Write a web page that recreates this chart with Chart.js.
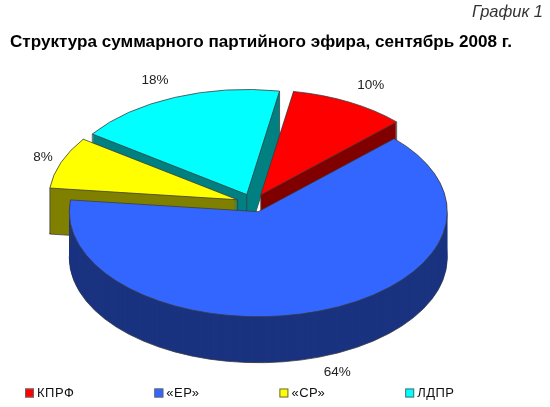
<!DOCTYPE html>
<html>
<head>
<meta charset="utf-8">
<style>
  html, body { margin: 0; padding: 0; background: #fff; }
  canvas { display: block; }
</style>
<script src="https://cdn.jsdelivr.net/npm/chart.js@4"></script>
</head>
<body>
<canvas id="chart" width="550" height="407"></canvas>
<script>
"use strict";

var parties = ['КПРФ', '«ЕР»', '«СР»', 'ЛДПР'];
var shares = [10, 64, 8, 18];
var faceColors = ['#ff0000', '#3366ff', '#ffff00', '#00ffff'];
var wallColors = ['#800000', '#1a3380', '#808000', '#008080'];

(function () {
  var SQUASH = 0.556, DEPTH = 46, EXPLODE = 16.4;
  var CENTER_X = 253, CENTER_Y = 203;
  var OUTLINE = '#3a3a3a';
  var FONT = '"Liberation Sans", Arial, sans-serif';
  // back to front, the blue slice covers the cut walls of the others
  var drawOrder = [3, 2, 0, 1];
  var labelReach = [1.198, 1.166, 1.108, 1.194];
  var labelTurn = [1.1, -2.2, 0.8, -1.6];

  var slice_origin = function (arc) {
    var mid = (arc.startAngle + arc.endAngle) / 2;
    return {
      x: CENTER_X + Math.cos(mid) * EXPLODE,
      y: CENTER_Y + Math.sin(mid) * EXPLODE * SQUASH
    };
  };

  var draw_slice = function (ctx, arc, index) {
    var origin = slice_origin(arc);
    var face = arc.options;
    var lift = DEPTH / SQUASH;
    var corners = [
      [arc.x, arc.y],
      [arc.x + Math.cos(arc.startAngle) * arc.outerRadius, arc.y + Math.sin(arc.startAngle) * arc.outerRadius],
      [arc.x + Math.cos(arc.endAngle) * arc.outerRadius, arc.y + Math.sin(arc.endAngle) * arc.outerRadius]
    ];
    var d;

    ctx.save();
    ctx.translate(origin.x, origin.y);
    ctx.scale(1, SQUASH);
    ctx.translate(-arc.x, -arc.y);

    // the side wall is the same slice stacked downwards in the dark colour
    for (d = DEPTH; d > 0; d--) {
      ctx.save();
      ctx.translate(0, d / SQUASH);
      arc.options = Object.assign({}, face, {
        backgroundColor: wallColors[index],
        borderColor: OUTLINE,
        borderWidth: d === DEPTH ? 1 : 0
      });
      arc.draw(ctx);
      ctx.restore();
    }
    arc.options = face;

    ctx.strokeStyle = OUTLINE;
    ctx.lineWidth = 1;
    corners.forEach(function (c) {
      ctx.beginPath();
      ctx.moveTo(c[0], c[1]);
      ctx.lineTo(c[0], c[1] + lift);
      ctx.stroke();
    });

    arc.draw(ctx);
    ctx.restore();
  };

  var draw_label = function (ctx, arc, index) {
    var origin = slice_origin(arc);
    var mid = (arc.startAngle + arc.endAngle) / 2 + labelTurn[index] * Math.PI / 180;
    var reach = arc.outerRadius * labelReach[index];
    var x = origin.x + Math.cos(mid) * reach;
    var y = origin.y + Math.sin(mid) * reach * SQUASH;
    // labels under the front rim have to clear the wall too
    if (Math.sin(mid) > 0) {
      y += DEPTH;
    }
    ctx.save();
    ctx.font = '13.5px ' + FONT;
    ctx.fillStyle = '#222';
    ctx.textAlign = 'center';
    ctx.textBaseline = 'middle';
    ctx.fillText(shares[index] + '%', x, y);
    ctx.restore();
  };

  // the built-in legend wraps with gaps this wide, so it is drawn here
  var draw_legend = function (ctx) {
    var x = 25, y = 393;
    ctx.save();
    ctx.font = '13px ' + FONT;
    ctx.letterSpacing = '0.5px';
    ctx.textBaseline = 'middle';
    parties.forEach(function (party, i) {
      ctx.fillStyle = faceColors[i];
      ctx.strokeStyle = '#666';
      ctx.lineWidth = 1;
      ctx.fillRect(x, y - 4.5, 9, 9);
      ctx.strokeRect(x + 0.5, y - 4, 8, 8);
      ctx.fillStyle = '#111';
      ctx.fillText(party, x + 12, y + 0.5);
      x += 12 + ctx.measureText(party).width + 80;
    });
    ctx.restore();
  };

  var tiltedPie = {
    id: 'tiltedPie',
    beforeDatasetsDraw: function (chart) {
      var arcs = chart.getDatasetMeta(0).data;
      drawOrder.forEach(function (i) {
        draw_slice(chart.ctx, arcs[i], i);
      });
      drawOrder.forEach(function (i) {
        draw_label(chart.ctx, arcs[i], i);
      });
      draw_legend(chart.ctx);
      return false;
    }
  };

  new Chart(document.getElementById('chart').getContext('2d'), {
    type: 'pie',
    plugins: [tiltedPie],
    data: {
      labels: parties,
      datasets: [{
        data: shares,
        backgroundColor: faceColors,
        borderColor: OUTLINE,
        borderWidth: 1
      }]
    },
    options: {
      responsive: false,
      animation: false,
      rotation: 10,
      radius: 189,
      events: [],
      layout: { padding: { left: 10, right: 7, top: 1, bottom: 3 } },
      plugins: {
        subtitle: {
          display: true,
          text: 'График 1',
          align: 'end',
          weight: 3000,
          color: '#333',
          font: { family: FONT, size: 16.5, style: 'italic', weight: 'normal' },
          padding: { top: 2, bottom: 9 }
        },
        title: {
          display: true,
          text: 'Структура суммарного партийного эфира, сентябрь 2008 г.',
          align: 'start',
          color: '#000',
          font: { family: FONT, size: 17.1, weight: 'bold' },
          padding: { top: 0, bottom: 0 }
        },
        legend: { display: false },
        tooltip: { enabled: false }
      }
    }
  });
})();
</script>
</body>
</html>
